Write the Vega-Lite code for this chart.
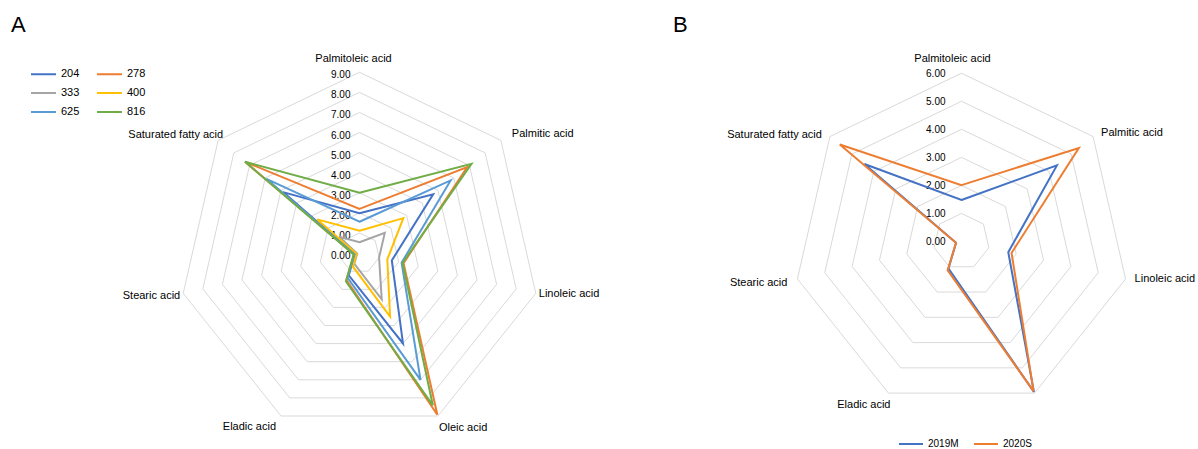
{
  "$schema": "https://vega.github.io/schema/vega-lite/v6.json",
  "padding": 0,
  "spacing": 0,
  "background": "white",
  "config": {"view": {"stroke": null}, "font": "Liberation Sans", "text": {"color": "#000000"}},
  "datasets": {
    "A": [
      {"sample": "204", "acid": "Palmitoleic acid", "value": 1.98},
      {"sample": "204", "acid": "Palmitic acid", "value": 4.69},
      {"sample": "204", "acid": "Linoleic acid", "value": 1.65},
      {"sample": "204", "acid": "Oleic acid", "value": 4.99},
      {"sample": "204", "acid": "Eladic acid", "value": 1.23},
      {"sample": "204", "acid": "Stearic acid", "value": 0.25},
      {"sample": "204", "acid": "Saturated fatty acid", "value": 4.87},
      {"sample": "278", "acid": "Palmitoleic acid", "value": 2.2},
      {"sample": "278", "acid": "Palmitic acid", "value": 6.86},
      {"sample": "278", "acid": "Linoleic acid", "value": 2.25},
      {"sample": "278", "acid": "Oleic acid", "value": 8.93},
      {"sample": "278", "acid": "Eladic acid", "value": 1.49},
      {"sample": "278", "acid": "Stearic acid", "value": 0.28},
      {"sample": "278", "acid": "Saturated fatty acid", "value": 7.29},
      {"sample": "333", "acid": "Palmitoleic acid", "value": 0.54},
      {"sample": "333", "acid": "Palmitic acid", "value": 1.61},
      {"sample": "333", "acid": "Linoleic acid", "value": 1.0},
      {"sample": "333", "acid": "Oleic acid", "value": 2.55},
      {"sample": "333", "acid": "Eladic acid", "value": 0.59},
      {"sample": "333", "acid": "Stearic acid", "value": 0.12},
      {"sample": "333", "acid": "Saturated fatty acid", "value": 1.3},
      {"sample": "400", "acid": "Palmitoleic acid", "value": 1.11},
      {"sample": "400", "acid": "Palmitic acid", "value": 2.79},
      {"sample": "400", "acid": "Linoleic acid", "value": 1.42},
      {"sample": "400", "acid": "Oleic acid", "value": 3.51},
      {"sample": "400", "acid": "Eladic acid", "value": 0.75},
      {"sample": "400", "acid": "Stearic acid", "value": 0.15},
      {"sample": "400", "acid": "Saturated fatty acid", "value": 2.69},
      {"sample": "625", "acid": "Palmitoleic acid", "value": 1.56},
      {"sample": "625", "acid": "Palmitic acid", "value": 5.8},
      {"sample": "625", "acid": "Linoleic acid", "value": 2.15},
      {"sample": "625", "acid": "Oleic acid", "value": 7.0},
      {"sample": "625", "acid": "Eladic acid", "value": 1.36},
      {"sample": "625", "acid": "Stearic acid", "value": 0.26},
      {"sample": "625", "acid": "Saturated fatty acid", "value": 5.93},
      {"sample": "816", "acid": "Palmitoleic acid", "value": 3.0},
      {"sample": "816", "acid": "Palmitic acid", "value": 7.13},
      {"sample": "816", "acid": "Linoleic acid", "value": 2.2},
      {"sample": "816", "acid": "Oleic acid", "value": 8.41},
      {"sample": "816", "acid": "Eladic acid", "value": 1.56},
      {"sample": "816", "acid": "Stearic acid", "value": 0.3},
      {"sample": "816", "acid": "Saturated fatty acid", "value": 7.29}
    ],
    "B": [
      {"sample": "2019M", "acid": "Palmitoleic acid", "value": 1.48},
      {"sample": "2019M", "acid": "Palmitic acid", "value": 4.35},
      {"sample": "2019M", "acid": "Linoleic acid", "value": 1.71},
      {"sample": "2019M", "acid": "Oleic acid", "value": 5.95},
      {"sample": "2019M", "acid": "Eladic acid", "value": 1.07},
      {"sample": "2019M", "acid": "Stearic acid", "value": 0.2},
      {"sample": "2019M", "acid": "Saturated fatty acid", "value": 4.43},
      {"sample": "2020S", "acid": "Palmitoleic acid", "value": 2.01},
      {"sample": "2020S", "acid": "Palmitic acid", "value": 5.35},
      {"sample": "2020S", "acid": "Linoleic acid", "value": 1.83},
      {"sample": "2020S", "acid": "Oleic acid", "value": 5.92},
      {"sample": "2020S", "acid": "Eladic acid", "value": 1.14},
      {"sample": "2020S", "acid": "Stearic acid", "value": 0.2},
      {"sample": "2020S", "acid": "Saturated fatty acid", "value": 5.55}
    ],
    "acids": [
      {"acid": "Palmitoleic acid"}, {"acid": "Palmitic acid"}, {"acid": "Linoleic acid"},
      {"acid": "Oleic acid"}, {"acid": "Eladic acid"}, {"acid": "Stearic acid"}, {"acid": "Saturated fatty acid"}
    ],
    "ticksA": [{"tick": 0}, {"tick": 1}, {"tick": 2}, {"tick": 3}, {"tick": 4}, {"tick": 5}, {"tick": 6}, {"tick": 7}, {"tick": 8}, {"tick": 9}],
    "ticksB": [{"tick": 0}, {"tick": 1}, {"tick": 2}, {"tick": 3}, {"tick": 4}, {"tick": 5}, {"tick": 6}]
  },
  "resolve": {"scale": {"color": "independent", "x": "independent", "y": "independent"}, "legend": {"color": "independent"}},
  "hconcat": [
    {
      "width": 600,
      "height": 449,
      "title": {"text": "A", "anchor": "start", "frame": "group", "orient": "top", "baseline": "alphabetic", "offset": -54, "dx": 11, "fontSize": 22, "fontWeight": "normal", "color": "#000000"},
      "encoding": {
        "x": {"field": "x", "type": "quantitative", "scale": {"domain": [-17.894, 11.971], "nice": false, "zero": false}, "axis": null},
        "y": {"field": "y", "type": "quantitative", "scale": {"domain": [-9.751, 12.598], "nice": false, "zero": false}, "axis": null}
      },
      "layer": [
        {
          "data": {"name": "ticksA"},
          "transform": [
            {"filter": "datum.tick > 0"},
            {"calculate": "[0,1,2,3,4,5,6]", "as": "k"},
            {"flatten": ["k"]},
            {"calculate": "datum.tick * sin(datum.k * 2 * PI / 7)", "as": "x"},
            {"calculate": "datum.tick * cos(datum.k * 2 * PI / 7)", "as": "y"}
          ],
          "mark": {"type": "line", "interpolate": "linear-closed", "stroke": "#D9D9D9", "strokeWidth": 1},
          "encoding": {"detail": {"field": "tick", "type": "nominal"}, "order": {"field": "k", "type": "quantitative"}}
        },
        {
          "data": {"name": "ticksA"},
          "transform": [
            {"calculate": "0", "as": "x"},
            {"calculate": "datum.tick", "as": "y"}
          ],
          "mark": {"type": "text", "align": "right", "baseline": "middle", "dx": -9, "dy": 3, "fontSize": 10},
          "encoding": {"text": {"field": "tick", "type": "quantitative", "format": ".2f"}}
        },
        {
          "data": {"name": "A"},
          "transform": [
            {"calculate": "indexof(['Palmitoleic acid','Palmitic acid','Linoleic acid','Oleic acid','Eladic acid','Stearic acid','Saturated fatty acid'], datum.acid)", "as": "idx"},
            {"calculate": "datum.value * sin(datum.idx * 2 * PI / 7)", "as": "x"},
            {"calculate": "datum.value * cos(datum.idx * 2 * PI / 7)", "as": "y"}
          ],
          "mark": {"type": "line", "interpolate": "linear-closed", "strokeWidth": 2},
          "encoding": {
            "color": {
              "field": "sample", "type": "nominal",
              "scale": {"domain": ["204", "278", "333", "400", "625", "816"], "range": ["#4472C4", "#ED7D31", "#A5A5A5", "#FFC000", "#5B9BD5", "#70AD47"]},
              "legend": {"orient": "none", "legendX": 30, "legendY": 60.5, "direction": "horizontal", "columns": 2, "title": null, "symbolType": "stroke", "symbolStrokeWidth": 2, "symbolSize": 625, "labelFontSize": 11, "labelColor": "#000000", "labelOffset": 4, "columnPadding": 13, "rowPadding": 0, "padding": 0}
            },
            "order": {"field": "idx", "type": "quantitative"}
          }
        },
        {
          "data": {"name": "acids"},
          "transform": [
            {"calculate": "indexof(['Palmitoleic acid','Palmitic acid','Linoleic acid','Oleic acid','Eladic acid','Stearic acid','Saturated fatty acid'], datum.acid)", "as": "idx"},
            {"calculate": "9 * sin(datum.idx * 2 * PI / 7)", "as": "x"},
            {"calculate": "9 * cos(datum.idx * 2 * PI / 7)", "as": "y"}
          ],
          "encoding": {"text": {"field": "acid", "type": "nominal"}},
          "layer": [
            {"transform": [{"filter": "datum.acid == 'Palmitoleic acid'"}], "mark": {"type": "text", "align": "center", "baseline": "middle", "dx": -6, "dy": -13, "fontSize": 11}},
            {"transform": [{"filter": "datum.acid == 'Palmitic acid'"}], "mark": {"type": "text", "align": "left", "baseline": "middle", "dx": 11, "dy": -6, "fontSize": 11}},
            {"transform": [{"filter": "datum.acid == 'Linoleic acid'"}], "mark": {"type": "text", "align": "left", "baseline": "middle", "dx": 3, "dy": 1, "fontSize": 11}},
            {"transform": [{"filter": "datum.acid == 'Oleic acid'"}], "mark": {"type": "text", "align": "left", "baseline": "middle", "dx": 1, "dy": 12, "fontSize": 11}},
            {"transform": [{"filter": "datum.acid == 'Eladic acid'"}], "mark": {"type": "text", "align": "right", "baseline": "middle", "dx": -5, "dy": 11, "fontSize": 11}},
            {"transform": [{"filter": "datum.acid == 'Stearic acid'"}], "mark": {"type": "text", "align": "right", "baseline": "middle", "dx": -3, "dy": 3, "fontSize": 11}},
            {"transform": [{"filter": "datum.acid == 'Saturated fatty acid'"}], "mark": {"type": "text", "align": "right", "baseline": "middle", "dx": 5, "dy": -5, "fontSize": 11}}
          ]
        }
      ]
    },
    {
      "width": 598,
      "height": 449,
      "title": {"text": "B", "anchor": "start", "frame": "group", "orient": "top", "baseline": "alphabetic", "offset": -54, "dx": 73, "fontSize": 22, "fontWeight": "normal", "color": "#000000"},
      "encoding": {
        "x": {"field": "x", "type": "quantitative", "scale": {"domain": [-12.888, 8.431], "nice": false, "zero": false}, "axis": null},
        "y": {"field": "y", "type": "quantitative", "scale": {"domain": [-7.398, 8.61], "nice": false, "zero": false}, "axis": null}
      },
      "layer": [
        {
          "data": {"name": "ticksB"},
          "transform": [
            {"filter": "datum.tick > 0"},
            {"calculate": "[0,1,2,3,4,5,6]", "as": "k"},
            {"flatten": ["k"]},
            {"calculate": "datum.tick * sin(datum.k * 2 * PI / 7)", "as": "x"},
            {"calculate": "datum.tick * cos(datum.k * 2 * PI / 7)", "as": "y"}
          ],
          "mark": {"type": "line", "interpolate": "linear-closed", "stroke": "#D9D9D9", "strokeWidth": 1},
          "encoding": {"detail": {"field": "tick", "type": "nominal"}, "order": {"field": "k", "type": "quantitative"}}
        },
        {
          "data": {"name": "ticksB"},
          "transform": [
            {"calculate": "0", "as": "x"},
            {"calculate": "datum.tick", "as": "y"}
          ],
          "mark": {"type": "text", "align": "right", "baseline": "middle", "dx": -16, "dy": 1, "fontSize": 10},
          "encoding": {"text": {"field": "tick", "type": "quantitative", "format": ".2f"}}
        },
        {
          "data": {"name": "B"},
          "transform": [
            {"calculate": "indexof(['Palmitoleic acid','Palmitic acid','Linoleic acid','Oleic acid','Eladic acid','Stearic acid','Saturated fatty acid'], datum.acid)", "as": "idx"},
            {"calculate": "datum.value * sin(datum.idx * 2 * PI / 7)", "as": "x"},
            {"calculate": "datum.value * cos(datum.idx * 2 * PI / 7)", "as": "y"}
          ],
          "mark": {"type": "line", "interpolate": "linear-closed", "strokeWidth": 2},
          "encoding": {
            "color": {
              "field": "sample", "type": "nominal",
              "scale": {"domain": ["2019M", "2020S"], "range": ["#4472C4", "#ED7D31"]},
              "legend": {"orient": "none", "legendX": 298, "legendY": 431, "direction": "horizontal", "title": null, "symbolType": "stroke", "symbolStrokeWidth": 2, "symbolSize": 576, "labelFontSize": 10, "labelColor": "#000000", "labelOffset": 4, "columnPadding": 11, "padding": 0}
            },
            "order": {"field": "idx", "type": "quantitative"}
          }
        },
        {
          "data": {"name": "acids"},
          "transform": [
            {"calculate": "indexof(['Palmitoleic acid','Palmitic acid','Linoleic acid','Oleic acid','Eladic acid','Stearic acid','Saturated fatty acid'], datum.acid)", "as": "idx"},
            {"calculate": "6 * sin(datum.idx * 2 * PI / 7)", "as": "x"},
            {"calculate": "6 * cos(datum.idx * 2 * PI / 7)", "as": "y"}
          ],
          "encoding": {"text": {"field": "acid", "type": "nominal"}},
          "layer": [
            {"transform": [{"filter": "datum.acid == 'Palmitoleic acid'"}], "mark": {"type": "text", "align": "center", "baseline": "middle", "dx": -9, "dy": -14, "fontSize": 11}},
            {"transform": [{"filter": "datum.acid == 'Palmitic acid'"}], "mark": {"type": "text", "align": "left", "baseline": "middle", "dx": 8, "dy": -4, "fontSize": 11}},
            {"transform": [{"filter": "datum.acid == 'Linoleic acid'"}], "mark": {"type": "text", "align": "left", "baseline": "middle", "dx": 9, "dy": 0, "fontSize": 11}},
            {"transform": [{"filter": "datum.acid == 'Eladic acid'"}], "mark": {"type": "text", "align": "right", "baseline": "middle", "dx": 2, "dy": 12, "fontSize": 11}},
            {"transform": [{"filter": "datum.acid == 'Stearic acid'"}], "mark": {"type": "text", "align": "right", "baseline": "middle", "dx": -10, "dy": 4, "fontSize": 11}},
            {"transform": [{"filter": "datum.acid == 'Saturated fatty acid'"}], "mark": {"type": "text", "align": "right", "baseline": "middle", "dx": -8, "dy": -2, "fontSize": 11}}
          ]
        }
      ]
    }
  ]
}
